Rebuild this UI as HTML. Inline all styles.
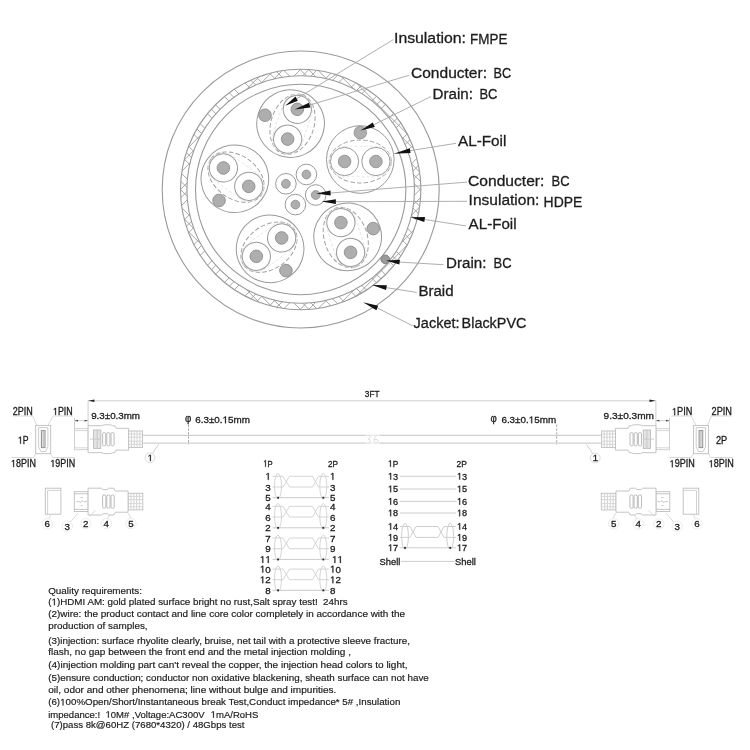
<!DOCTYPE html><html><head><meta charset="utf-8"><title>HDMI cable spec</title>
<style>html,body{margin:0;padding:0;background:#fff;}body{width:750px;height:750px;overflow:hidden;font-family:"Liberation Sans",sans-serif;}svg{display:block;filter:grayscale(1);}text{font-family:"Liberation Sans",sans-serif;fill:#1c1c1c;stroke:#1c1c1c;stroke-width:0.3px;}text.t{stroke-width:0.18px;}</style></head><body>
<svg width="750" height="750" viewBox="0 0 750 750">
<rect width="750" height="750" fill="#fff"/>
<g fill="none" stroke="#9a9a9a" stroke-width="1.1">
<circle cx="300.7" cy="189.5" r="138.5"/>
<circle cx="300.7" cy="189.5" r="120.2"/>
<circle cx="300.7" cy="189.5" r="113.8"/>
<circle cx="300.7" cy="189.5" r="105.2"/>
</g>
<clipPath id="ring"><path clip-rule="evenodd" d="M180.5 189.5a120.2 120.2 0 1 0 240.4 0a120.2 120.2 0 1 0 -240.4 0ZM186.89999999999998 189.5a113.8 113.8 0 1 0 227.6 0a113.8 113.8 0 1 0 -227.6 0Z"/></clipPath>
<path clip-path="url(#ring)" d="M139.5 -193.8L563.8 230.5M130.9 -185.2L555.2 239.1M126.7 -180.9L550.9 243.3M122.4 -176.6L546.6 247.6M113.8 -168.1L538.1 256.2M109.5 -163.8L533.8 260.5M105.3 -159.5L529.5 264.7M96.7 -151.0L521.0 273.3M92.4 -146.7L516.7 277.6M88.2 -142.4L512.4 281.8M79.6 -133.9L503.9 290.4M75.3 -129.6L499.6 294.7M71.0 -125.3L495.3 299.0M62.5 -116.7L486.7 307.5M58.2 -112.5L482.5 311.8M53.9 -108.2L478.2 316.1M45.4 -99.6L469.6 324.6M41.1 -95.4L465.4 328.9M36.8 -91.1L461.1 333.2M28.3 -82.5L452.5 341.7M24.0 -78.2L448.2 346.0M19.7 -74.0L444.0 350.3M11.1 -65.4L435.4 358.9M6.9 -61.1L431.1 363.1M2.6 -56.9L426.9 367.4M-6.0 -48.3L418.3 376.0M-10.2 -44.0L414.0 380.2M-14.5 -39.7L409.7 384.5M-23.1 -31.2L401.2 393.1M-27.4 -26.9L396.9 397.4M-31.6 -22.6L392.6 401.6M-40.2 -14.1L384.1 410.2M-44.5 -9.8L379.8 414.5M-48.7 -5.5L375.5 418.7M-57.3 3.0L367.0 427.3M-61.6 7.3L362.7 431.6M-65.9 11.6L358.4 435.9M-74.4 20.1L349.9 444.4M-78.7 24.4L345.6 448.7M-83.0 28.7L341.3 453.0M-91.5 37.3L332.7 461.5M-95.8 41.5L328.5 465.8M-100.1 45.8L324.2 470.1M-108.6 54.4L315.6 478.6M-112.9 58.6L311.4 482.9M-117.2 62.9L307.1 487.2M-125.7 71.5L298.5 495.7M-130.0 75.8L294.2 500.0M-134.3 80.0L290.0 504.3M-142.9 88.6L281.4 512.9M-147.1 92.9L277.1 517.1M-151.4 97.2L272.8 521.4M-160.0 105.7L264.3 530.0M-164.2 110.0L260.0 534.2M-168.5 114.3L255.7 538.5M-177.1 122.8L247.2 547.1M-181.4 127.1L242.9 551.4M-185.6 131.4L238.6 555.6M-194.2 139.9L230.1 564.2M-198.5 144.2L225.8 568.5M-202.8 148.5L221.5 572.8M-202.8 230.5L221.5 -193.8M-198.5 234.8L225.8 -189.5M-194.2 239.1L230.1 -185.2M-185.6 247.6L238.6 -176.6M-181.4 251.9L242.9 -172.4M-177.1 256.2L247.2 -168.1M-168.5 264.7L255.7 -159.5M-164.2 269.0L260.0 -155.2M-160.0 273.3L264.3 -151.0M-151.4 281.8L272.8 -142.4M-147.1 286.1L277.1 -138.1M-142.9 290.4L281.4 -133.9M-134.3 299.0L290.0 -125.3M-130.0 303.2L294.2 -121.0M-125.7 307.5L298.5 -116.7M-117.2 316.1L307.1 -108.2M-112.9 320.4L311.4 -103.9M-108.6 324.6L315.6 -99.6M-100.1 333.2L324.2 -91.1M-95.8 337.5L328.5 -86.8M-91.5 341.7L332.7 -82.5M-83.0 350.3L341.3 -74.0M-78.7 354.6L345.6 -69.7M-74.4 358.9L349.9 -65.4M-65.9 367.4L358.4 -56.9M-61.6 371.7L362.7 -52.6M-57.3 376.0L367.0 -48.3M-48.7 384.5L375.5 -39.7M-44.5 388.8L379.8 -35.5M-40.2 393.1L384.1 -31.2M-31.6 401.6L392.6 -22.6M-27.4 405.9L396.9 -18.4M-23.1 410.2L401.2 -14.1M-14.5 418.7L409.7 -5.5M-10.2 423.0L414.0 -1.2M-6.0 427.3L418.3 3.0M2.6 435.9L426.9 11.6M6.9 440.1L431.1 15.9M11.1 444.4L435.4 20.1M19.7 453.0L444.0 28.7M24.0 457.2L448.2 33.0M28.3 461.5L452.5 37.3M36.8 470.1L461.1 45.8M41.1 474.4L465.4 50.1M45.4 478.6L469.6 54.4M53.9 487.2L478.2 62.9M58.2 491.5L482.5 67.2M62.5 495.7L486.7 71.5M71.0 504.3L495.3 80.0M75.3 508.6L499.6 84.3M79.6 512.9L503.9 88.6M88.2 521.4L512.4 97.2M92.4 525.7L516.7 101.4M96.7 530.0L521.0 105.7M105.3 538.5L529.5 114.3M109.5 542.8L533.8 118.5M113.8 547.1L538.1 122.8M122.4 555.6L546.6 131.4M126.7 559.9L550.9 135.7M130.9 564.2L555.2 139.9M139.5 572.8L563.8 148.5" fill="none" stroke="#9c9c9c" stroke-width="0.9"/>
<g transform="rotate(-72 300.7 189.5)"><circle cx="360.3" cy="159.5" r="33.8" fill="none" stroke="#9a9a9a" stroke-width="1"/><ellipse cx="360.3" cy="161.5" rx="31" ry="21.5" fill="none" stroke="#9c9c9c" stroke-width="0.95" stroke-dasharray="4.5 2.2"/><path d="M344.7 146.3H375.90000000000003A15.2 15.2 0 0 1 375.90000000000003 176.7H344.7A15.2 15.2 0 0 1 344.7 146.3Z" fill="none" stroke="#e2e2e2" stroke-width="0.8" stroke-dasharray="3 2"/><circle cx="344.6" cy="161.5" r="14.1" fill="#fff" stroke="#9a9a9a" stroke-width="1"/><circle cx="344.6" cy="161.5" r="6.3" fill="#aeaeae" stroke="#8c8c8c" stroke-width="0.8"/><circle cx="375.90000000000003" cy="161.5" r="14.1" fill="#fff" stroke="#9a9a9a" stroke-width="1"/><circle cx="375.90000000000003" cy="161.5" r="6.3" fill="#aeaeae" stroke="#8c8c8c" stroke-width="0.8"/><circle cx="360.3" cy="132.6" r="6.3" fill="#aeaeae" stroke="#8c8c8c" stroke-width="0.8"/></g>
<g transform="rotate(0 300.7 189.5)"><circle cx="360.3" cy="159.5" r="33.8" fill="none" stroke="#9a9a9a" stroke-width="1"/><ellipse cx="360.3" cy="161.5" rx="31" ry="21.5" fill="none" stroke="#9c9c9c" stroke-width="0.95" stroke-dasharray="4.5 2.2"/><path d="M344.7 146.3H375.90000000000003A15.2 15.2 0 0 1 375.90000000000003 176.7H344.7A15.2 15.2 0 0 1 344.7 146.3Z" fill="none" stroke="#e2e2e2" stroke-width="0.8" stroke-dasharray="3 2"/><circle cx="344.6" cy="161.5" r="14.1" fill="#fff" stroke="#9a9a9a" stroke-width="1"/><circle cx="344.6" cy="161.5" r="6.3" fill="#aeaeae" stroke="#8c8c8c" stroke-width="0.8"/><circle cx="375.90000000000003" cy="161.5" r="14.1" fill="#fff" stroke="#9a9a9a" stroke-width="1"/><circle cx="375.90000000000003" cy="161.5" r="6.3" fill="#aeaeae" stroke="#8c8c8c" stroke-width="0.8"/><circle cx="360.3" cy="132.6" r="6.3" fill="#aeaeae" stroke="#8c8c8c" stroke-width="0.8"/></g>
<g transform="rotate(72 300.7 189.5)"><circle cx="360.3" cy="159.5" r="33.8" fill="none" stroke="#9a9a9a" stroke-width="1"/><ellipse cx="360.3" cy="161.5" rx="31" ry="21.5" fill="none" stroke="#9c9c9c" stroke-width="0.95" stroke-dasharray="4.5 2.2"/><path d="M344.7 146.3H375.90000000000003A15.2 15.2 0 0 1 375.90000000000003 176.7H344.7A15.2 15.2 0 0 1 344.7 146.3Z" fill="none" stroke="#e2e2e2" stroke-width="0.8" stroke-dasharray="3 2"/><circle cx="344.6" cy="161.5" r="14.1" fill="#fff" stroke="#9a9a9a" stroke-width="1"/><circle cx="344.6" cy="161.5" r="6.3" fill="#aeaeae" stroke="#8c8c8c" stroke-width="0.8"/><circle cx="375.90000000000003" cy="161.5" r="14.1" fill="#fff" stroke="#9a9a9a" stroke-width="1"/><circle cx="375.90000000000003" cy="161.5" r="6.3" fill="#aeaeae" stroke="#8c8c8c" stroke-width="0.8"/><circle cx="360.3" cy="132.6" r="6.3" fill="#aeaeae" stroke="#8c8c8c" stroke-width="0.8"/></g>
<g transform="rotate(144 300.7 189.5)"><circle cx="360.3" cy="159.5" r="33.8" fill="none" stroke="#9a9a9a" stroke-width="1"/><ellipse cx="360.3" cy="161.5" rx="31" ry="21.5" fill="none" stroke="#9c9c9c" stroke-width="0.95" stroke-dasharray="4.5 2.2"/><path d="M344.7 146.3H375.90000000000003A15.2 15.2 0 0 1 375.90000000000003 176.7H344.7A15.2 15.2 0 0 1 344.7 146.3Z" fill="none" stroke="#e2e2e2" stroke-width="0.8" stroke-dasharray="3 2"/><circle cx="344.6" cy="161.5" r="14.1" fill="#fff" stroke="#9a9a9a" stroke-width="1"/><circle cx="344.6" cy="161.5" r="6.3" fill="#aeaeae" stroke="#8c8c8c" stroke-width="0.8"/><circle cx="375.90000000000003" cy="161.5" r="14.1" fill="#fff" stroke="#9a9a9a" stroke-width="1"/><circle cx="375.90000000000003" cy="161.5" r="6.3" fill="#aeaeae" stroke="#8c8c8c" stroke-width="0.8"/><circle cx="360.3" cy="132.6" r="6.3" fill="#aeaeae" stroke="#8c8c8c" stroke-width="0.8"/></g>
<g transform="rotate(216 300.7 189.5)"><circle cx="360.3" cy="159.5" r="33.8" fill="none" stroke="#9a9a9a" stroke-width="1"/><ellipse cx="360.3" cy="161.5" rx="31" ry="21.5" fill="none" stroke="#9c9c9c" stroke-width="0.95" stroke-dasharray="4.5 2.2"/><path d="M344.7 146.3H375.90000000000003A15.2 15.2 0 0 1 375.90000000000003 176.7H344.7A15.2 15.2 0 0 1 344.7 146.3Z" fill="none" stroke="#e2e2e2" stroke-width="0.8" stroke-dasharray="3 2"/><circle cx="344.6" cy="161.5" r="14.1" fill="#fff" stroke="#9a9a9a" stroke-width="1"/><circle cx="344.6" cy="161.5" r="6.3" fill="#aeaeae" stroke="#8c8c8c" stroke-width="0.8"/><circle cx="375.90000000000003" cy="161.5" r="14.1" fill="#fff" stroke="#9a9a9a" stroke-width="1"/><circle cx="375.90000000000003" cy="161.5" r="6.3" fill="#aeaeae" stroke="#8c8c8c" stroke-width="0.8"/><circle cx="360.3" cy="132.6" r="6.3" fill="#aeaeae" stroke="#8c8c8c" stroke-width="0.8"/></g>
<circle cx="306.4" cy="174.5" r="10.3" fill="#fff" stroke="#9a9a9a" stroke-width="1"/>
<circle cx="306.4" cy="174.5" r="4.4" fill="#aeaeae" stroke="#8c8c8c" stroke-width="0.8"/>
<circle cx="285.9" cy="183.8" r="10.3" fill="#fff" stroke="#9a9a9a" stroke-width="1"/>
<circle cx="285.9" cy="183.8" r="4.4" fill="#aeaeae" stroke="#8c8c8c" stroke-width="0.8"/>
<circle cx="315.7" cy="195.0" r="10.3" fill="#fff" stroke="#9a9a9a" stroke-width="1"/>
<circle cx="315.7" cy="195.0" r="4.4" fill="#aeaeae" stroke="#8c8c8c" stroke-width="0.8"/>
<circle cx="295.4" cy="204.6" r="10.3" fill="#fff" stroke="#9a9a9a" stroke-width="1"/>
<circle cx="295.4" cy="204.6" r="4.4" fill="#aeaeae" stroke="#8c8c8c" stroke-width="0.8"/>
<circle cx="385.3" cy="259.3" r="4.4" fill="#9a9a9a" stroke="#777" stroke-width="0.8"/>
<line x1="296.7" y1="98.7" x2="393.3" y2="39.6" stroke="#a6a6a6" stroke-width="0.9"/>
<path d="M285.2 105.7L297.9 100.8L295.5 96.6Z" fill="#111"/>
<line x1="309.7" y1="105.1" x2="409.3" y2="75.2" stroke="#a6a6a6" stroke-width="0.9"/>
<path d="M294.6 109.4L310.4 107.4L309.0 102.8Z" fill="#111"/>
<line x1="373.8" y1="124.7" x2="431" y2="96.5" stroke="#a6a6a6" stroke-width="0.9"/>
<path d="M360.5 130.6L374.8 126.9L372.8 122.5Z" fill="#111"/>
<line x1="410.2" y1="150.7" x2="456.1" y2="143.3" stroke="#a6a6a6" stroke-width="0.9"/>
<path d="M393.7 153.7L410.6 153.1L409.8 148.3Z" fill="#111"/>
<line x1="330.6" y1="193.0" x2="467" y2="182.1" stroke="#a6a6a6" stroke-width="0.9"/>
<path d="M316.2 193.4L330.7 195.4L330.5 190.6Z" fill="#111"/>
<line x1="335.9" y1="201.7" x2="467" y2="201.3" stroke="#a6a6a6" stroke-width="0.9"/>
<path d="M321.5 201.6L335.9 204.1L335.9 199.3Z" fill="#111"/>
<line x1="424.7" y1="219.5" x2="465.9" y2="225.9" stroke="#a6a6a6" stroke-width="0.9"/>
<path d="M410.4 217.3L424.3 221.9L425.1 217.1Z" fill="#111"/>
<line x1="399.7" y1="262.1" x2="443.5" y2="264.7" stroke="#a6a6a6" stroke-width="0.9"/>
<path d="M385.9 260.4L399.4 264.5L400.0 259.7Z" fill="#111"/>
<line x1="386.5" y1="287.7" x2="416.8" y2="292.4" stroke="#a6a6a6" stroke-width="0.9"/>
<path d="M372.0 285.0L386.1 290.1L386.9 285.3Z" fill="#111"/>
<line x1="377.3" y1="308" x2="412.5" y2="325.7" stroke="#a6a6a6" stroke-width="0.9"/>
<path d="M363.0 302.2L376.4 310.2L378.2 305.8Z" fill="#111"/>
<text x="394" y="43" font-size="15.4" text-anchor="start" textLength="72" lengthAdjust="spacingAndGlyphs">Insulation:</text>
<text x="470" y="44" font-size="15.4" text-anchor="start" textLength="37.4" lengthAdjust="spacingAndGlyphs">FMPE</text>
<text x="411" y="78" font-size="15.4" text-anchor="start" textLength="76" lengthAdjust="spacingAndGlyphs">Conducter:</text>
<text x="493.6" y="78" font-size="15.4" text-anchor="start" textLength="17.6" lengthAdjust="spacingAndGlyphs">BC</text>
<text x="432.6" y="99.4" font-size="15.4" text-anchor="start" textLength="40.4" lengthAdjust="spacingAndGlyphs">Drain:</text>
<text x="479.4" y="99.4" font-size="15.4" text-anchor="start" textLength="18" lengthAdjust="spacingAndGlyphs">BC</text>
<text x="458" y="146" font-size="15.4" text-anchor="start" textLength="48.4" lengthAdjust="spacingAndGlyphs">AL-Foil</text>
<text x="468" y="186" font-size="15.4" text-anchor="start" textLength="76.4" lengthAdjust="spacingAndGlyphs">Conducter:</text>
<text x="551.6" y="186" font-size="15.4" text-anchor="start" textLength="18" lengthAdjust="spacingAndGlyphs">BC</text>
<text x="468.6" y="205" font-size="15.4" text-anchor="start" textLength="70.8" lengthAdjust="spacingAndGlyphs">Insulation:</text>
<text x="543.6" y="206.6" font-size="15.4" text-anchor="start" textLength="38.8" lengthAdjust="spacingAndGlyphs">HDPE</text>
<text x="468.6" y="228.6" font-size="15.4" text-anchor="start" textLength="48" lengthAdjust="spacingAndGlyphs">AL-Foil</text>
<text x="446" y="268.4" font-size="15.4" text-anchor="start" textLength="40.4" lengthAdjust="spacingAndGlyphs">Drain:</text>
<text x="493.6" y="268.4" font-size="15.4" text-anchor="start" textLength="18" lengthAdjust="spacingAndGlyphs">BC</text>
<text x="418.4" y="295.6" font-size="15.4" text-anchor="start" textLength="35.2" lengthAdjust="spacingAndGlyphs">Braid</text>
<text x="413.6" y="328.4" font-size="15.4" text-anchor="start" textLength="46" lengthAdjust="spacingAndGlyphs">Jacket:</text>
<text x="461.6" y="328.4" font-size="15.4" text-anchor="start" textLength="64.8" lengthAdjust="spacingAndGlyphs">BlackPVC</text>
<g stroke="#c8c8c8" stroke-width="0.9" fill="none">
<line x1="88" y1="400.8" x2="655.7" y2="400.8"/>
<line x1="88.1" y1="400.8" x2="88.1" y2="426"/>
<line x1="655.9" y1="400.8" x2="655.9" y2="426"/>
<line x1="74.5" y1="418" x2="74.5" y2="429"/>
<line x1="74.5" y1="420.7" x2="88.1" y2="420.7"/>
<line x1="669.5" y1="418" x2="669.5" y2="429"/>
<line x1="655.9" y1="420.7" x2="669.5" y2="420.7"/>
</g>
<path d="M88.2 400.8l6.2 -1.3v2.6Z M655.7 400.8l-6.2 -1.3v2.6Z" fill="#222"/>
<path d="M74.6 420.7l3.4 -0.9v1.8Z M88 420.7l-3.4 -0.9v1.8Z M656 420.7l3.4 -0.9v1.8Z M669.4 420.7l-3.4 -0.9v1.8Z" fill="#444"/>
<g stroke="#bdbdbd" stroke-width="0.9" fill="none">
<line x1="142.5" y1="435.3" x2="601.6" y2="435.3"/>
<line x1="142.5" y1="443.1" x2="601.6" y2="443.1"/>
</g>
<rect x="366" y="434.5" width="13.5" height="9.5" fill="#fff" opacity="0.6"/>
<path d="M367.3 435.6c3.4 -0.6 4 2.4 0.8 3.6c3.4 0.4 3.4 4 -0.8 3.8 M377 435.6c-3.6 1.6 -4.2 7.6 -0.6 7.4 c3.2 -0.6 2.2 -4.6 -2 -3.2" stroke="#d6d6d6" stroke-width="0.9" fill="none"/>
<g stroke="#a2a2a2" stroke-width="0.9" stroke-dasharray="2.4 1.5" fill="none">
<line x1="188.5" y1="424.5" x2="188.5" y2="444.5"/>
<line x1="556.7" y1="424.5" x2="556.7" y2="444.5"/>
</g>
<g stroke="#bdbdbd" stroke-width="0.9" fill="#fff"><rect x="74.5" y="428.7" width="13.6" height="21" stroke="#cbcbcb"/><line x1="74.5" y1="430.59999999999997" x2="88" y2="430.59999999999997" stroke="#d2d2d2"/><line x1="74.5" y1="447.8" x2="88" y2="447.8" stroke="#d2d2d2"/><rect x="128.6" y="431.0" width="13.9" height="16.4"/><line x1="131.5" y1="431.0" x2="131.5" y2="447.4" stroke="#cfcfcf"/><line x1="134.3" y1="431.0" x2="134.3" y2="447.4" stroke="#cfcfcf"/><line x1="137.1" y1="431.0" x2="137.1" y2="447.4" stroke="#cfcfcf"/><line x1="139.9" y1="431.0" x2="139.9" y2="447.4" stroke="#cfcfcf"/><line x1="128.6" y1="434.0" x2="142.5" y2="434.0" stroke="#d4d4d4"/><line x1="128.6" y1="437.2" x2="142.5" y2="437.2" stroke="#d4d4d4"/><line x1="128.6" y1="441.2" x2="142.5" y2="441.2" stroke="#d4d4d4"/><line x1="128.6" y1="444.4" x2="142.5" y2="444.4" stroke="#d4d4d4"/><path d="M88.1 425.7H102l1.6 -0.9h7.2l1.6 0.9h2.4l1.2 2.6H128.6V450.09999999999997H116l-1.2 2.6h-2.4l-1.6 0.9h-7.2l-1.6 -0.9H88.1Z"/><rect x="93.6" y="430.0" width="7.2" height="18.4" fill="#e3e3e3" stroke="#bcbcbc"/><line x1="97.2" y1="430.0" x2="97.2" y2="448.4" stroke="#c4c4c4"/><line x1="90" y1="439.2" x2="101" y2="439.2" stroke="#c8c8c8"/><rect x="102.6" y="432.59999999999997" width="3.1" height="13.2" rx="1.2" stroke="#b4b4b4"/><rect x="106.8" y="432.59999999999997" width="3.1" height="13.2" rx="1.2" stroke="#b4b4b4"/><rect x="111.0" y="432.59999999999997" width="3.1" height="13.2" rx="1.2" stroke="#b4b4b4"/></g>
<g transform="translate(744.1,0) scale(-1,1)"><g stroke="#bdbdbd" stroke-width="0.9" fill="#fff"><rect x="74.5" y="428.7" width="13.6" height="21" stroke="#cbcbcb"/><line x1="74.5" y1="430.59999999999997" x2="88" y2="430.59999999999997" stroke="#d2d2d2"/><line x1="74.5" y1="447.8" x2="88" y2="447.8" stroke="#d2d2d2"/><rect x="128.6" y="431.0" width="13.9" height="16.4"/><line x1="131.5" y1="431.0" x2="131.5" y2="447.4" stroke="#cfcfcf"/><line x1="134.3" y1="431.0" x2="134.3" y2="447.4" stroke="#cfcfcf"/><line x1="137.1" y1="431.0" x2="137.1" y2="447.4" stroke="#cfcfcf"/><line x1="139.9" y1="431.0" x2="139.9" y2="447.4" stroke="#cfcfcf"/><line x1="128.6" y1="434.0" x2="142.5" y2="434.0" stroke="#d4d4d4"/><line x1="128.6" y1="437.2" x2="142.5" y2="437.2" stroke="#d4d4d4"/><line x1="128.6" y1="441.2" x2="142.5" y2="441.2" stroke="#d4d4d4"/><line x1="128.6" y1="444.4" x2="142.5" y2="444.4" stroke="#d4d4d4"/><path d="M88.1 425.7H102l1.6 -0.9h7.2l1.6 0.9h2.4l1.2 2.6H128.6V450.09999999999997H116l-1.2 2.6h-2.4l-1.6 0.9h-7.2l-1.6 -0.9H88.1Z"/><rect x="93.6" y="430.0" width="7.2" height="18.4" fill="#e3e3e3" stroke="#bcbcbc"/><line x1="97.2" y1="430.0" x2="97.2" y2="448.4" stroke="#c4c4c4"/><line x1="90" y1="439.2" x2="101" y2="439.2" stroke="#c8c8c8"/><rect x="102.6" y="432.59999999999997" width="3.1" height="13.2" rx="1.2" stroke="#b4b4b4"/><rect x="106.8" y="432.59999999999997" width="3.1" height="13.2" rx="1.2" stroke="#b4b4b4"/><rect x="111.0" y="432.59999999999997" width="3.1" height="13.2" rx="1.2" stroke="#b4b4b4"/></g></g>
<g stroke="#bdbdbd" stroke-width="0.9" fill="#fff"><rect x="45.3" y="488.2" width="15.6" height="26"/><path d="M47.6 514.2V490.4H60.9" fill="none" stroke="#cdcdcd"/><rect x="74.3" y="491.70000000000005" width="13.8" height="19.8"/><line x1="74.3" y1="493.8" x2="88" y2="493.8"/><line x1="74.3" y1="509.40000000000003" x2="88" y2="509.40000000000003"/><path d="M76 501.6h3l1.5 1.2 1.5 -2.4 1.5 1.2h3.5 M80.5 497.6h2.5 M80.5 505.6h2.5" fill="none" stroke="#c4c4c4"/><rect x="128.1" y="493.3" width="14.7" height="16.6"/><line x1="131" y1="493.3" x2="131" y2="509.90000000000003" stroke="#cfcfcf"/><line x1="133.8" y1="493.3" x2="133.8" y2="509.90000000000003" stroke="#cfcfcf"/><line x1="136.6" y1="493.3" x2="136.6" y2="509.90000000000003" stroke="#cfcfcf"/><line x1="139.4" y1="493.3" x2="139.4" y2="509.90000000000003" stroke="#cfcfcf"/><line x1="128.1" y1="496.40000000000003" x2="142.8" y2="496.40000000000003" stroke="#d4d4d4"/><line x1="128.1" y1="499.6" x2="142.8" y2="499.6" stroke="#d4d4d4"/><line x1="128.1" y1="503.6" x2="142.8" y2="503.6" stroke="#d4d4d4"/><line x1="128.1" y1="506.8" x2="142.8" y2="506.8" stroke="#d4d4d4"/><path d="M88.1 488.20000000000005H101.5l1.6 1.4h4l1.6 -1.4h5.2l1.4 2.8H128.1V512.2H115.4l-1.4 2.8h-5.2l-1.6 -1.4h-4l-1.6 1.4H88.1Z"/><rect x="102.6" y="495.0" width="3.2" height="13.2" rx="1.3" stroke="#b4b4b4"/><rect x="106.8" y="495.0" width="3.2" height="13.2" rx="1.3" stroke="#b4b4b4"/><rect x="111.0" y="495.0" width="3.2" height="13.2" rx="1.3" stroke="#b4b4b4"/></g><g stroke="#d0d0d0" stroke-width="0.8" fill="none"><line x1="95.6" y1="510" x2="89.7" y2="516.5"/><line x1="110" y1="514.2" x2="107.3" y2="519"/><line x1="128.1" y1="513" x2="131.3" y2="518.4"/><line x1="78" y1="513" x2="70.5" y2="522"/><line x1="51" y1="514.5" x2="49" y2="518.5"/></g>
<g transform="translate(744.1,0) scale(-1,1)"><g stroke="#bdbdbd" stroke-width="0.9" fill="#fff"><rect x="45.3" y="488.2" width="15.6" height="26"/><path d="M47.6 514.2V490.4H60.9" fill="none" stroke="#cdcdcd"/><rect x="74.3" y="491.70000000000005" width="13.8" height="19.8"/><line x1="74.3" y1="493.8" x2="88" y2="493.8"/><line x1="74.3" y1="509.40000000000003" x2="88" y2="509.40000000000003"/><path d="M76 501.6h3l1.5 1.2 1.5 -2.4 1.5 1.2h3.5 M80.5 497.6h2.5 M80.5 505.6h2.5" fill="none" stroke="#c4c4c4"/><rect x="128.1" y="493.3" width="14.7" height="16.6"/><line x1="131" y1="493.3" x2="131" y2="509.90000000000003" stroke="#cfcfcf"/><line x1="133.8" y1="493.3" x2="133.8" y2="509.90000000000003" stroke="#cfcfcf"/><line x1="136.6" y1="493.3" x2="136.6" y2="509.90000000000003" stroke="#cfcfcf"/><line x1="139.4" y1="493.3" x2="139.4" y2="509.90000000000003" stroke="#cfcfcf"/><line x1="128.1" y1="496.40000000000003" x2="142.8" y2="496.40000000000003" stroke="#d4d4d4"/><line x1="128.1" y1="499.6" x2="142.8" y2="499.6" stroke="#d4d4d4"/><line x1="128.1" y1="503.6" x2="142.8" y2="503.6" stroke="#d4d4d4"/><line x1="128.1" y1="506.8" x2="142.8" y2="506.8" stroke="#d4d4d4"/><path d="M88.1 488.20000000000005H101.5l1.6 1.4h4l1.6 -1.4h5.2l1.4 2.8H128.1V512.2H115.4l-1.4 2.8h-5.2l-1.6 -1.4h-4l-1.6 1.4H88.1Z"/><rect x="102.6" y="495.0" width="3.2" height="13.2" rx="1.3" stroke="#b4b4b4"/><rect x="106.8" y="495.0" width="3.2" height="13.2" rx="1.3" stroke="#b4b4b4"/><rect x="111.0" y="495.0" width="3.2" height="13.2" rx="1.3" stroke="#b4b4b4"/></g><g stroke="#d0d0d0" stroke-width="0.8" fill="none"><line x1="95.6" y1="510" x2="89.7" y2="516.5"/><line x1="110" y1="514.2" x2="107.3" y2="519"/><line x1="128.1" y1="513" x2="131.3" y2="518.4"/><line x1="78" y1="513" x2="70.5" y2="522"/><line x1="51" y1="514.5" x2="49" y2="518.5"/></g></g>
<g stroke="#bdbdbd" stroke-width="0.9" fill="#fff"><rect x="35.7" y="425.4" width="15" height="28.3"/><path d="M38.6 427.6H47.9V446.8L45.6 451.6H40.9L38.6 446.8Z" stroke="#c6c6c6"/><rect x="41.4" y="430.6" width="3.6" height="17" fill="#eee" stroke="#8e8e8e" stroke-width="1"/><line x1="43.2" y1="430.6" x2="43.2" y2="447.6" stroke="#b0b0b0"/></g><g stroke="#cfcfcf" stroke-width="0.8" fill="none"><path d="M12.7 416H32.7L36.7 425.4"/><path d="M72.7 416H53L48 425.4"/><path d="M11 457.5H33.4L35.7 453.7"/><path d="M75 457.5H52.7L50.7 453.7"/></g>
<g transform="translate(744.1,0) scale(-1,1)"><g stroke="#bdbdbd" stroke-width="0.9" fill="#fff"><rect x="35.7" y="425.4" width="15" height="28.3"/><path d="M38.6 427.6H47.9V446.8L45.6 451.6H40.9L38.6 446.8Z" stroke="#c6c6c6"/><rect x="41.4" y="430.6" width="3.6" height="17" fill="#eee" stroke="#8e8e8e" stroke-width="1"/><line x1="43.2" y1="430.6" x2="43.2" y2="447.6" stroke="#b0b0b0"/></g><g stroke="#cfcfcf" stroke-width="0.8" fill="none"><path d="M12.7 416H32.7L36.7 425.4"/><path d="M72.7 416H53L48 425.4"/><path d="M11 457.5H33.4L35.7 453.7"/><path d="M75 457.5H52.7L50.7 453.7"/></g></g>
<line x1="158.8" y1="444.2" x2="152.4" y2="453.4" stroke="#c2c2c2" stroke-width="0.8"/>
<circle cx="150" cy="457.8" r="4.9" fill="#fff" stroke="#cfcfcf" stroke-width="0.8"/>
<line x1="586.3" y1="444.4" x2="592.8" y2="453.6" stroke="#c2c2c2" stroke-width="0.8"/>
<circle cx="595.2" cy="457.9" r="4.9" fill="#fff" stroke="#cfcfcf" stroke-width="0.8"/>
<g transform="translate(147.70 461) scale(1.0000 1)"><path transform="translate(0.00 0) scale(0.00439 -0.00439)" d="M515 0V1237L197 1010V1180L530 1409H696V0Z" fill="#1c1c1c" stroke="#1c1c1c" stroke-width="68.3"/></g>
<text x="595.3" y="461.2" font-size="9.5" text-anchor="middle" font-family="Liberation Serif,serif">1</text>
<text x="364.8" y="397" font-size="9.3" text-anchor="start" textLength="14.7" lengthAdjust="spacingAndGlyphs" xml:space="preserve">3FT</text>
<text x="91.2" y="419.3" font-size="9.8" text-anchor="start" textLength="48.8" lengthAdjust="spacingAndGlyphs" xml:space="preserve">9.3±0.3mm</text>
<text x="603.6" y="418.6" font-size="9.8" text-anchor="start" textLength="50.4" lengthAdjust="spacingAndGlyphs" xml:space="preserve">9.3±0.3mm</text>
<text x="184.9" y="421.9" font-size="11.5" text-anchor="start" textLength="6.3" lengthAdjust="spacingAndGlyphs" xml:space="preserve">φ</text>
<g transform="translate(195.20 423.2) scale(1.0283 1)"><text x="0.00" y="0" font-size="9.6" xml:space="preserve">6.3±0.</text><path transform="translate(26.62 0) scale(0.00469 -0.00469)" d="M515 0V1237L197 1010V1180L530 1409H696V0Z" fill="#1c1c1c" stroke="#1c1c1c" stroke-width="64.0"/><text x="31.96" y="0" font-size="9.6" xml:space="preserve">5mm</text></g>
<text x="490.5" y="421.9" font-size="11.5" text-anchor="start" textLength="6.3" lengthAdjust="spacingAndGlyphs" xml:space="preserve">φ</text>
<g transform="translate(501.40 423.2) scale(1.0283 1)"><text x="0.00" y="0" font-size="9.6" xml:space="preserve">6.3±0.</text><path transform="translate(26.62 0) scale(0.00469 -0.00469)" d="M515 0V1237L197 1010V1180L530 1409H696V0Z" fill="#1c1c1c" stroke="#1c1c1c" stroke-width="64.0"/><text x="31.96" y="0" font-size="9.6" xml:space="preserve">5mm</text></g>
<text x="12.7" y="415" font-size="10.2" text-anchor="start" textLength="20" lengthAdjust="spacingAndGlyphs" xml:space="preserve">2PIN</text>
<g transform="translate(53.00 415) scale(0.8688 1)"><path transform="translate(0.00 0) scale(0.00498 -0.00498)" d="M515 0V1237L197 1010V1180L530 1409H696V0Z" fill="#1c1c1c" stroke="#1c1c1c" stroke-width="60.2"/><text x="5.67" y="0" font-size="10.2" xml:space="preserve">PIN</text></g>
<g transform="translate(18.00 443.7) scale(0.8576 1)"><path transform="translate(0.00 0) scale(0.00498 -0.00498)" d="M515 0V1237L197 1010V1180L530 1409H696V0Z" fill="#1c1c1c" stroke="#1c1c1c" stroke-width="60.2"/><text x="5.67" y="0" font-size="10.2" xml:space="preserve">P</text></g>
<g transform="translate(11.00 467) scale(0.8819 1)"><path transform="translate(0.00 0) scale(0.00498 -0.00498)" d="M515 0V1237L197 1010V1180L530 1409H696V0Z" fill="#1c1c1c" stroke="#1c1c1c" stroke-width="60.2"/><text x="5.67" y="0" font-size="10.2" xml:space="preserve">8PIN</text></g>
<g transform="translate(50.40 467) scale(0.8783 1)"><path transform="translate(0.00 0) scale(0.00498 -0.00498)" d="M515 0V1237L197 1010V1180L530 1409H696V0Z" fill="#1c1c1c" stroke="#1c1c1c" stroke-width="60.2"/><text x="5.67" y="0" font-size="10.2" xml:space="preserve">9PIN</text></g>
<g transform="translate(672.00 415.2) scale(0.8996 1)"><path transform="translate(0.00 0) scale(0.00498 -0.00498)" d="M515 0V1237L197 1010V1180L530 1409H696V0Z" fill="#1c1c1c" stroke="#1c1c1c" stroke-width="60.2"/><text x="5.67" y="0" font-size="10.2" xml:space="preserve">PIN</text></g>
<text x="711.6" y="415.2" font-size="10.2" text-anchor="start" textLength="20.4" lengthAdjust="spacingAndGlyphs" xml:space="preserve">2PIN</text>
<text x="715.9" y="444" font-size="10.2" text-anchor="start" textLength="11.3" lengthAdjust="spacingAndGlyphs" xml:space="preserve">2P</text>
<g transform="translate(669.60 467.3) scale(0.8889 1)"><path transform="translate(0.00 0) scale(0.00498 -0.00498)" d="M515 0V1237L197 1010V1180L530 1409H696V0Z" fill="#1c1c1c" stroke="#1c1c1c" stroke-width="60.2"/><text x="5.67" y="0" font-size="10.2" xml:space="preserve">9PIN</text></g>
<g transform="translate(708.70 467.3) scale(0.8889 1)"><path transform="translate(0.00 0) scale(0.00498 -0.00498)" d="M515 0V1237L197 1010V1180L530 1409H696V0Z" fill="#1c1c1c" stroke="#1c1c1c" stroke-width="60.2"/><text x="5.67" y="0" font-size="10.2" xml:space="preserve">8PIN</text></g>
<circle cx="47.3" cy="523.9" r="5.2" fill="none" stroke="#e6e6e6" stroke-width="0.8"/>
<text x="47.3" y="527.3" font-size="9.8" text-anchor="middle" >6</text>
<circle cx="67.3" cy="526.1999999999999" r="5.2" fill="none" stroke="#e6e6e6" stroke-width="0.8"/>
<text x="67.3" y="529.5999999999999" font-size="9.8" text-anchor="middle" >3</text>
<circle cx="85.8" cy="523.6" r="5.2" fill="none" stroke="#e6e6e6" stroke-width="0.8"/>
<text x="85.8" y="527.0" font-size="9.8" text-anchor="middle" >2</text>
<circle cx="106.3" cy="523.6" r="5.2" fill="none" stroke="#e6e6e6" stroke-width="0.8"/>
<text x="106.3" y="527.0" font-size="9.8" text-anchor="middle" >4</text>
<circle cx="130.9" cy="523.6" r="5.2" fill="none" stroke="#e6e6e6" stroke-width="0.8"/>
<text x="130.9" y="527.0" font-size="9.8" text-anchor="middle" >5</text>
<circle cx="613.7" cy="523.9" r="5.2" fill="none" stroke="#e6e6e6" stroke-width="0.8"/>
<text x="613.7" y="527.3" font-size="9.8" text-anchor="middle" >5</text>
<circle cx="638.2" cy="523.9" r="5.2" fill="none" stroke="#e6e6e6" stroke-width="0.8"/>
<text x="638.2" y="527.3" font-size="9.8" text-anchor="middle" >4</text>
<circle cx="658.8" cy="523.9" r="5.2" fill="none" stroke="#e6e6e6" stroke-width="0.8"/>
<text x="658.8" y="527.3" font-size="9.8" text-anchor="middle" >2</text>
<circle cx="677.2" cy="526.1999999999999" r="5.2" fill="none" stroke="#e6e6e6" stroke-width="0.8"/>
<text x="677.2" y="529.5999999999999" font-size="9.8" text-anchor="middle" >3</text>
<circle cx="696.9" cy="523.9" r="5.2" fill="none" stroke="#e6e6e6" stroke-width="0.8"/>
<text x="696.9" y="527.3" font-size="9.8" text-anchor="middle" >6</text>
<g transform="translate(263.30 466.8) scale(0.8176 1)"><path transform="translate(0.00 0) scale(0.00459 -0.00459)" d="M515 0V1237L197 1010V1180L530 1409H696V0Z" fill="#1c1c1c" stroke="#1c1c1c" stroke-width="65.4"/><text x="5.23" y="0" font-size="9.4" xml:space="preserve">P</text></g>
<text x="328" y="466.8" font-size="9.4" text-anchor="start" textLength="10" lengthAdjust="spacingAndGlyphs" xml:space="preserve">2P</text>
<g transform="translate(265.35 479.8) scale(1.0000 1)"><path transform="translate(0.00 0) scale(0.00479 -0.00479)" d="M515 0V1237L197 1010V1180L530 1409H696V0Z" fill="#1c1c1c" stroke="#1c1c1c" stroke-width="62.7"/></g>
<g transform="translate(330.00 479.8) scale(1.0000 1)"><path transform="translate(0.00 0) scale(0.00479 -0.00479)" d="M515 0V1237L197 1010V1180L530 1409H696V0Z" fill="#1c1c1c" stroke="#1c1c1c" stroke-width="62.7"/></g>
<text x="270.8" y="490.5" font-size="9.8" text-anchor="end" xml:space="preserve">3</text>
<text x="330" y="490.5" font-size="9.8" text-anchor="start" xml:space="preserve">3</text>
<text x="270.8" y="501.2" font-size="9.8" text-anchor="end" xml:space="preserve">5</text>
<text x="330" y="501.2" font-size="9.8" text-anchor="start" xml:space="preserve">5</text>
<text x="270.8" y="509.9" font-size="9.8" text-anchor="end" xml:space="preserve">4</text>
<text x="330" y="509.9" font-size="9.8" text-anchor="start" xml:space="preserve">4</text>
<text x="270.8" y="520.5" font-size="9.8" text-anchor="end" xml:space="preserve">6</text>
<text x="330" y="520.5" font-size="9.8" text-anchor="start" xml:space="preserve">6</text>
<text x="270.8" y="531.3" font-size="9.8" text-anchor="end" xml:space="preserve">2</text>
<text x="330" y="531.3" font-size="9.8" text-anchor="start" xml:space="preserve">2</text>
<text x="270.8" y="541.5" font-size="9.8" text-anchor="end" xml:space="preserve">7</text>
<text x="330" y="541.5" font-size="9.8" text-anchor="start" xml:space="preserve">7</text>
<text x="270.8" y="552.2" font-size="9.8" text-anchor="end" xml:space="preserve">9</text>
<text x="330" y="552.2" font-size="9.8" text-anchor="start" xml:space="preserve">9</text>
<g transform="translate(259.90 562.9) scale(1.0000 1)"><path transform="translate(0.00 0) scale(0.00479 -0.00479)" d="M515 0V1237L197 1010V1180L530 1409H696V0Z" fill="#1c1c1c" stroke="#1c1c1c" stroke-width="62.7"/><path transform="translate(5.45 0) scale(0.00479 -0.00479)" d="M515 0V1237L197 1010V1180L530 1409H696V0Z" fill="#1c1c1c" stroke="#1c1c1c" stroke-width="62.7"/></g>
<g transform="translate(332.00 562.9) scale(1.0000 1)"><path transform="translate(0.00 0) scale(0.00479 -0.00479)" d="M515 0V1237L197 1010V1180L530 1409H696V0Z" fill="#1c1c1c" stroke="#1c1c1c" stroke-width="62.7"/><path transform="translate(5.45 0) scale(0.00479 -0.00479)" d="M515 0V1237L197 1010V1180L530 1409H696V0Z" fill="#1c1c1c" stroke="#1c1c1c" stroke-width="62.7"/></g>
<g transform="translate(259.90 572.6) scale(1.0000 1)"><path transform="translate(0.00 0) scale(0.00479 -0.00479)" d="M515 0V1237L197 1010V1180L530 1409H696V0Z" fill="#1c1c1c" stroke="#1c1c1c" stroke-width="62.7"/><text x="5.45" y="0" font-size="9.8" xml:space="preserve">0</text></g>
<g transform="translate(330.00 572.6) scale(1.0000 1)"><path transform="translate(0.00 0) scale(0.00479 -0.00479)" d="M515 0V1237L197 1010V1180L530 1409H696V0Z" fill="#1c1c1c" stroke="#1c1c1c" stroke-width="62.7"/><text x="5.45" y="0" font-size="9.8" xml:space="preserve">0</text></g>
<g transform="translate(259.90 583.2) scale(1.0000 1)"><path transform="translate(0.00 0) scale(0.00479 -0.00479)" d="M515 0V1237L197 1010V1180L530 1409H696V0Z" fill="#1c1c1c" stroke="#1c1c1c" stroke-width="62.7"/><text x="5.45" y="0" font-size="9.8" xml:space="preserve">2</text></g>
<g transform="translate(330.00 583.2) scale(1.0000 1)"><path transform="translate(0.00 0) scale(0.00479 -0.00479)" d="M515 0V1237L197 1010V1180L530 1409H696V0Z" fill="#1c1c1c" stroke="#1c1c1c" stroke-width="62.7"/><text x="5.45" y="0" font-size="9.8" xml:space="preserve">2</text></g>
<text x="270.8" y="593.8" font-size="9.8" text-anchor="end" xml:space="preserve">8</text>
<text x="330" y="593.8" font-size="9.8" text-anchor="start" xml:space="preserve">8</text>
<g stroke="#d0d0d0" stroke-width="0.9" fill="none">
<ellipse cx="278" cy="486.2" rx="3.5" ry="12.76"/>
<ellipse cx="323.3" cy="486.2" rx="3.5" ry="12.76"/>
<path d="M272.5 476.3H283L289.5 487H312.5L318.5 476.3H329 M272.5 487H283L289.5 476.3H312.5L318.5 487H329"/>
<line x1="272.5" y1="497.7" x2="329" y2="497.7" stroke="#c4c4c4"/>
</g>
<rect x="277.2" y="496.8" width="1.8" height="1.8" fill="#222"/><rect x="322.4" y="496.8" width="1.8" height="1.8" fill="#222"/>
<g stroke="#d0d0d0" stroke-width="0.9" fill="none">
<ellipse cx="278" cy="516.3" rx="3.5" ry="12.76"/>
<ellipse cx="323.3" cy="516.3" rx="3.5" ry="12.76"/>
<path d="M272.5 506.4H283L289.5 517H312.5L318.5 506.4H329 M272.5 517H283L289.5 506.4H312.5L318.5 517H329"/>
<line x1="272.5" y1="527.8" x2="329" y2="527.8" stroke="#c4c4c4"/>
</g>
<rect x="277.2" y="526.9" width="1.8" height="1.8" fill="#222"/><rect x="322.4" y="526.9" width="1.8" height="1.8" fill="#222"/>
<g stroke="#d0d0d0" stroke-width="0.9" fill="none">
<ellipse cx="278" cy="547.9000000000001" rx="3.5" ry="12.76"/>
<ellipse cx="323.3" cy="547.9000000000001" rx="3.5" ry="12.76"/>
<path d="M272.5 538H283L289.5 548.7H312.5L318.5 538H329 M272.5 548.7H283L289.5 538H312.5L318.5 548.7H329"/>
<line x1="272.5" y1="559.4" x2="329" y2="559.4" stroke="#c4c4c4"/>
</g>
<rect x="277.2" y="558.5" width="1.8" height="1.8" fill="#222"/><rect x="322.4" y="558.5" width="1.8" height="1.8" fill="#222"/>
<g stroke="#d0d0d0" stroke-width="0.9" fill="none">
<ellipse cx="278" cy="578.9000000000001" rx="3.5" ry="12.76"/>
<ellipse cx="323.3" cy="578.9000000000001" rx="3.5" ry="12.76"/>
<path d="M272.5 569.1H283L289.5 579.7H312.5L318.5 569.1H329 M272.5 579.7H283L289.5 569.1H312.5L318.5 579.7H329"/>
<line x1="272.5" y1="590.3" x2="329" y2="590.3" stroke="#c4c4c4"/>
</g>
<rect x="277.2" y="589.4" width="1.8" height="1.8" fill="#222"/><rect x="322.4" y="589.4" width="1.8" height="1.8" fill="#222"/>
<g transform="translate(388.00 466.8) scale(0.8871 1)"><path transform="translate(0.00 0) scale(0.00459 -0.00459)" d="M515 0V1237L197 1010V1180L530 1409H696V0Z" fill="#1c1c1c" stroke="#1c1c1c" stroke-width="65.4"/><text x="5.23" y="0" font-size="9.4" xml:space="preserve">P</text></g>
<text x="456.6" y="466.8" font-size="9.4" text-anchor="start" textLength="10.4" lengthAdjust="spacingAndGlyphs" xml:space="preserve">2P</text>
<g transform="translate(388.00 479.6) scale(0.9552 1)"><path transform="translate(0.00 0) scale(0.00469 -0.00469)" d="M515 0V1237L197 1010V1180L530 1409H696V0Z" fill="#1c1c1c" stroke="#1c1c1c" stroke-width="64.0"/><text x="5.34" y="0" font-size="9.6" xml:space="preserve">3</text></g>
<g transform="translate(457.00 479.6) scale(0.9552 1)"><path transform="translate(0.00 0) scale(0.00469 -0.00469)" d="M515 0V1237L197 1010V1180L530 1409H696V0Z" fill="#1c1c1c" stroke="#1c1c1c" stroke-width="64.0"/><text x="5.34" y="0" font-size="9.6" xml:space="preserve">3</text></g>
<g transform="translate(388.00 492.3) scale(0.9552 1)"><path transform="translate(0.00 0) scale(0.00469 -0.00469)" d="M515 0V1237L197 1010V1180L530 1409H696V0Z" fill="#1c1c1c" stroke="#1c1c1c" stroke-width="64.0"/><text x="5.34" y="0" font-size="9.6" xml:space="preserve">5</text></g>
<g transform="translate(457.00 492.3) scale(0.9552 1)"><path transform="translate(0.00 0) scale(0.00469 -0.00469)" d="M515 0V1237L197 1010V1180L530 1409H696V0Z" fill="#1c1c1c" stroke="#1c1c1c" stroke-width="64.0"/><text x="5.34" y="0" font-size="9.6" xml:space="preserve">5</text></g>
<g transform="translate(388.00 504.7) scale(0.9552 1)"><path transform="translate(0.00 0) scale(0.00469 -0.00469)" d="M515 0V1237L197 1010V1180L530 1409H696V0Z" fill="#1c1c1c" stroke="#1c1c1c" stroke-width="64.0"/><text x="5.34" y="0" font-size="9.6" xml:space="preserve">6</text></g>
<g transform="translate(457.00 504.7) scale(0.9552 1)"><path transform="translate(0.00 0) scale(0.00469 -0.00469)" d="M515 0V1237L197 1010V1180L530 1409H696V0Z" fill="#1c1c1c" stroke="#1c1c1c" stroke-width="64.0"/><text x="5.34" y="0" font-size="9.6" xml:space="preserve">6</text></g>
<g transform="translate(388.00 516.3) scale(0.9552 1)"><path transform="translate(0.00 0) scale(0.00469 -0.00469)" d="M515 0V1237L197 1010V1180L530 1409H696V0Z" fill="#1c1c1c" stroke="#1c1c1c" stroke-width="64.0"/><text x="5.34" y="0" font-size="9.6" xml:space="preserve">8</text></g>
<g transform="translate(457.00 516.3) scale(0.9552 1)"><path transform="translate(0.00 0) scale(0.00469 -0.00469)" d="M515 0V1237L197 1010V1180L530 1409H696V0Z" fill="#1c1c1c" stroke="#1c1c1c" stroke-width="64.0"/><text x="5.34" y="0" font-size="9.6" xml:space="preserve">8</text></g>
<g transform="translate(388.00 529.8) scale(0.9552 1)"><path transform="translate(0.00 0) scale(0.00469 -0.00469)" d="M515 0V1237L197 1010V1180L530 1409H696V0Z" fill="#1c1c1c" stroke="#1c1c1c" stroke-width="64.0"/><text x="5.34" y="0" font-size="9.6" xml:space="preserve">4</text></g>
<g transform="translate(457.00 529.8) scale(0.9552 1)"><path transform="translate(0.00 0) scale(0.00469 -0.00469)" d="M515 0V1237L197 1010V1180L530 1409H696V0Z" fill="#1c1c1c" stroke="#1c1c1c" stroke-width="64.0"/><text x="5.34" y="0" font-size="9.6" xml:space="preserve">4</text></g>
<g transform="translate(388.00 540.6999999999999) scale(0.9552 1)"><path transform="translate(0.00 0) scale(0.00469 -0.00469)" d="M515 0V1237L197 1010V1180L530 1409H696V0Z" fill="#1c1c1c" stroke="#1c1c1c" stroke-width="64.0"/><text x="5.34" y="0" font-size="9.6" xml:space="preserve">9</text></g>
<g transform="translate(457.00 540.6999999999999) scale(0.9552 1)"><path transform="translate(0.00 0) scale(0.00469 -0.00469)" d="M515 0V1237L197 1010V1180L530 1409H696V0Z" fill="#1c1c1c" stroke="#1c1c1c" stroke-width="64.0"/><text x="5.34" y="0" font-size="9.6" xml:space="preserve">9</text></g>
<g transform="translate(388.00 551.0999999999999) scale(0.9552 1)"><path transform="translate(0.00 0) scale(0.00469 -0.00469)" d="M515 0V1237L197 1010V1180L530 1409H696V0Z" fill="#1c1c1c" stroke="#1c1c1c" stroke-width="64.0"/><text x="5.34" y="0" font-size="9.6" xml:space="preserve">7</text></g>
<g transform="translate(457.00 551.0999999999999) scale(0.9552 1)"><path transform="translate(0.00 0) scale(0.00469 -0.00469)" d="M515 0V1237L197 1010V1180L530 1409H696V0Z" fill="#1c1c1c" stroke="#1c1c1c" stroke-width="64.0"/><text x="5.34" y="0" font-size="9.6" xml:space="preserve">7</text></g>
<g stroke="#c8c8c8" stroke-width="0.9" fill="none">
<line x1="399.8" y1="476.3" x2="456.3" y2="476.3"/>
<line x1="399.8" y1="489" x2="456.3" y2="489"/>
<line x1="399.8" y1="501.4" x2="456.3" y2="501.4"/>
<line x1="399.8" y1="513" x2="456.3" y2="513"/>
<line x1="401" y1="561.4" x2="454.5" y2="561.4"/>
<ellipse cx="405" cy="536.4" rx="3.4" ry="13"/><ellipse cx="450.2" cy="536.4" rx="3.4" ry="13"/>
<path d="M400 526.5H410L416 537.4H438L444 526.5H456 M400 537.4H410L416 526.5H438L444 537.4H456"/>
<line x1="400" y1="547.8" x2="456" y2="547.8"/>
</g>
<rect x="404.1" y="546.9" width="1.8" height="1.8" fill="#222"/><rect x="449.3" y="546.9" width="1.8" height="1.8" fill="#222"/>
<text x="379.5" y="564.6" font-size="9.4" text-anchor="start" textLength="20.8" lengthAdjust="spacingAndGlyphs" xml:space="preserve">Shell</text>
<text x="455" y="564.6" font-size="9.4" text-anchor="start" textLength="20.8" lengthAdjust="spacingAndGlyphs" xml:space="preserve">Shell</text>
<text x="48.2" y="594" font-size="9.3" text-anchor="start" textLength="93.8" lengthAdjust="spacingAndGlyphs" class="t" xml:space="preserve">Quality requirements:</text>
<g transform="translate(48.20 605.2) scale(1.0541 1)"><text x="0.00" y="0" font-size="9.3" xml:space="preserve" class="t">(</text><path transform="translate(3.10 0) scale(0.00454 -0.00454)" d="M515 0V1237L197 1010V1180L530 1409H696V0Z" fill="#1c1c1c" stroke="#1c1c1c" stroke-width="39.6"/><text x="8.27" y="0" font-size="9.3" xml:space="preserve" class="t">)HDMI AM: gold plated surface bright no rust,Salt spray test!  24hrs</text></g>
<text x="48.2" y="617.4" font-size="9.3" text-anchor="start" textLength="356.8" lengthAdjust="spacingAndGlyphs" class="t" xml:space="preserve">(2)wire: the product contact and line core color completely in accordance with the</text>
<text x="48.2" y="629.2" font-size="9.3" text-anchor="start" textLength="99.4" lengthAdjust="spacingAndGlyphs" class="t" xml:space="preserve">production of samples,</text>
<text x="48.2" y="643.8" font-size="9.3" text-anchor="start" textLength="361.8" lengthAdjust="spacingAndGlyphs" class="t" xml:space="preserve">(3)injection: surface rhyolite clearly, bruise, net tail with a protective sleeve fracture,</text>
<text x="48.2" y="655" font-size="9.3" text-anchor="start" textLength="302.8" lengthAdjust="spacingAndGlyphs" class="t" xml:space="preserve">flash, no gap between the front end and the metal injection molding ,</text>
<text x="48.2" y="668.4" font-size="9.3" text-anchor="start" textLength="359.4" lengthAdjust="spacingAndGlyphs" class="t" xml:space="preserve">(4)injection molding part can't reveal the copper, the injection head colors to light,</text>
<text x="48.2" y="680.8" font-size="9.3" text-anchor="start" textLength="380.6" lengthAdjust="spacingAndGlyphs" class="t" xml:space="preserve">(5)ensure conduction; conductor non oxidative blackening, sheath surface can not have</text>
<text x="48.2" y="693.1" font-size="9.3" text-anchor="start" textLength="288.2" lengthAdjust="spacingAndGlyphs" class="t" xml:space="preserve">oil, odor and other phenomena; line without bulge and impurities.</text>
<g transform="translate(48.20 705.4) scale(1.0508 1)"><text x="0.00" y="0" font-size="9.3" xml:space="preserve" class="t">(6)</text><path transform="translate(11.37 0) scale(0.00454 -0.00454)" d="M515 0V1237L197 1010V1180L530 1409H696V0Z" fill="#1c1c1c" stroke="#1c1c1c" stroke-width="39.6"/><text x="16.54" y="0" font-size="9.3" xml:space="preserve" class="t">00%Open/Short/Instantaneous break Test,Conduct impedance* 5# ,Insulation</text></g>
<g transform="translate(48.20 717.7) scale(1.0268 1)"><text x="0.00" y="0" font-size="9.3" xml:space="preserve" class="t">impedance:!  </text><path transform="translate(55.83 0) scale(0.00454 -0.00454)" d="M515 0V1237L197 1010V1180L530 1409H696V0Z" fill="#1c1c1c" stroke="#1c1c1c" stroke-width="39.6"/><text x="61.00" y="0" font-size="9.3" xml:space="preserve" class="t">0M# ,Voltage:AC300V  </text><path transform="translate(158.20 0) scale(0.00454 -0.00454)" d="M515 0V1237L197 1010V1180L530 1409H696V0Z" fill="#1c1c1c" stroke="#1c1c1c" stroke-width="39.6"/><text x="163.37" y="0" font-size="9.3" xml:space="preserve" class="t">mA/RoHS</text></g>
<text x="51" y="728.4" font-size="9.3" text-anchor="start" textLength="193.5" lengthAdjust="spacingAndGlyphs" class="t" xml:space="preserve">(7)pass 8k@60HZ (7680*4320) / 48Gbps test</text>
</svg></body></html>
